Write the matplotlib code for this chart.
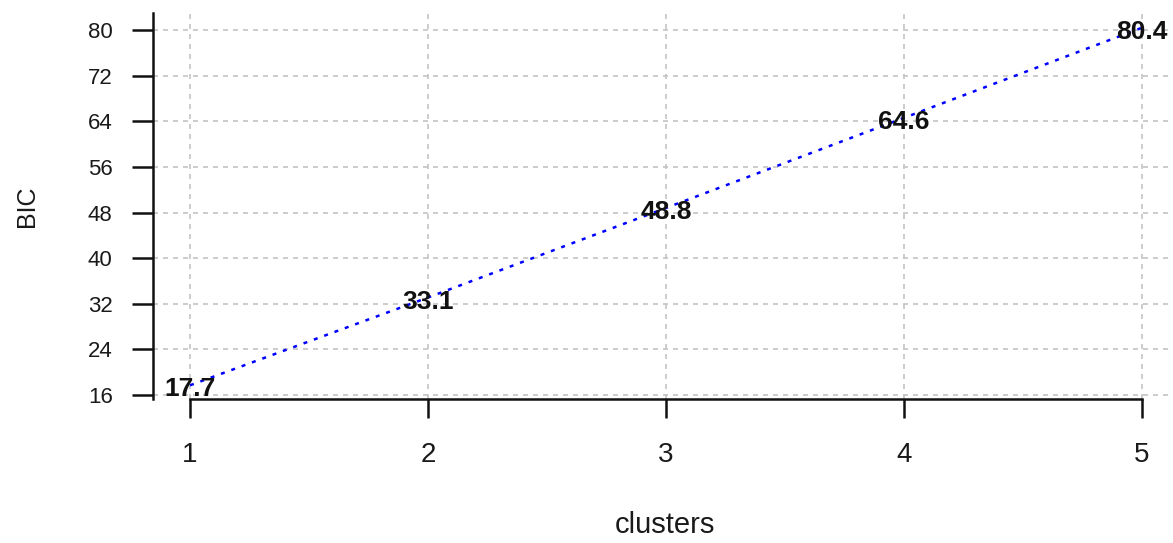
import matplotlib
matplotlib.use("Agg")
import matplotlib.pyplot as plt

clusters = [1, 2, 3, 4, 5]
bic = [17.7, 33.1, 48.8, 64.6, 80.4]
y_ticks = [16, 24, 32, 40, 48, 56, 64, 72, 80]
x_ticks = [1, 2, 3, 4, 5]

plt.rcParams['font.family'] = ['Liberation Sans', 'DejaVu Sans']

W, H = 1173, 543
fig = plt.figure(figsize=(W / 100, H / 100), dpi=100)
L, R, T, B = 153, 1173, 13, 399
ax = fig.add_axes([L / W, (H - B) / H, (R - L) / W, (B - T) / H])

ax.set_xlim(0.8445, 5.130)
ax.set_ylim(15.30, 82.98)

ax.plot(clusters, bic, color='#0000ff', linewidth=1.8,
        linestyle=(0, (1.6, 2.8)), zorder=3)
for xv, yv in zip(clusters, bic):
    ax.annotate(f"{yv:.1f}", (xv, yv), xytext=(0, -3), textcoords='offset points',
                ha='center', va='center', fontsize=19,
                color='#111111', fontweight='bold', zorder=4)

ax.set_xticks(x_ticks)
ax.set_yticks(y_ticks)
ax.grid(True, color='#c4c4c4', linestyle=(0, (3, 3)), linewidth=1.2)
ax.set_axisbelow(True)

for s in ['top', 'right']:
    ax.spines[s].set_visible(False)
ax.spines['left'].set_linewidth(1.8)
ax.spines['bottom'].set_linewidth(1.8)
ax.spines['bottom'].set_bounds(1, 5)
ax.spines['left'].set_color('#111111')
ax.spines['bottom'].set_color('#111111')

ax.tick_params(axis='y', length=15, width=1.8, pad=14, labelsize=16,
               labelcolor='#1a1a1a', color='#111111')
ax.tick_params(axis='x', length=14, width=1.8, pad=17, labelsize=20,
               labelcolor='#1a1a1a', color='#111111')

ax.set_xlabel('clusters', fontsize=21, color='#1a1a1a')
ax.set_ylabel('BIC', fontsize=18, color='#1a1a1a')
ax.xaxis.label.set_va('center')
ax.yaxis.label.set_va('center')
ax.xaxis.set_label_coords((665 - L) / (R - L), (B - 525) / (B - T))
ax.yaxis.set_label_coords((27 - L) / (R - L), 0.5)

fig.savefig('out.png', dpi=100)
